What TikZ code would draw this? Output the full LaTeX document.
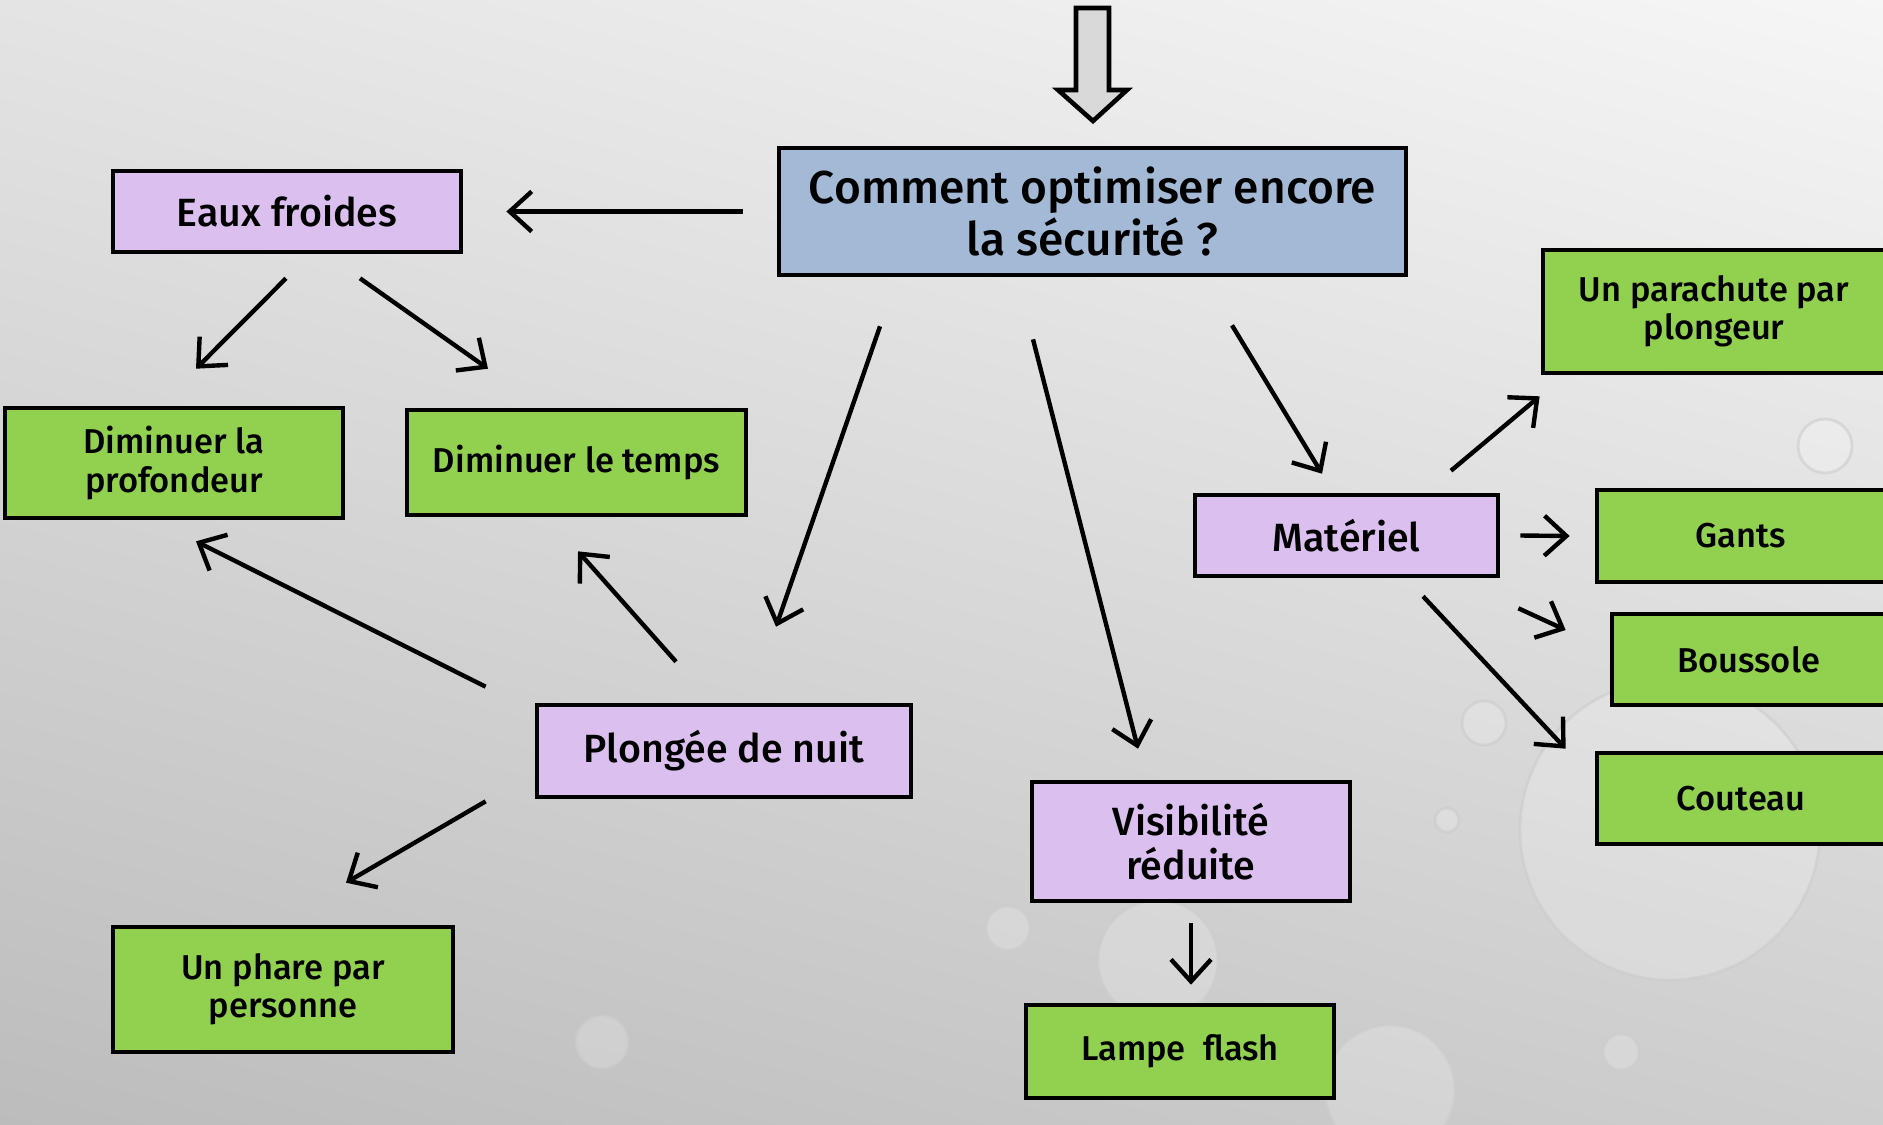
\documentclass[tikz,border=0pt]{standalone}
\usepackage{fontspec}
\setmainfont{Fira Sans}[UprightFont = * Medium]
\usetikzlibrary{arrows.meta,calc}
\definecolor{BleuTitre}{HTML}{A3B9D5}
\definecolor{Mauve}{HTML}{DBBFEE}
\definecolor{VertPomme}{HTML}{92D050}
\definecolor{GrisFleche}{HTML}{D9D9D9}
\definecolor{FondHaut}{HTML}{F8F8F8}
\definecolor{FondBas}{HTML}{BBBBBB}
\tikzset{
  titre/.style   = {draw, line width=1.3pt, fill=BleuTitre, align=center,
                    font=\fontsize{13.1}{14.8}\selectfont, inner sep=0pt},
  theme/.style   = {draw, line width=1.3pt, fill=Mauve, align=center,
                    font=\fontsize{11.2}{12.6}\selectfont, inner sep=0pt},
  solution/.style= {draw, line width=1.3pt, fill=VertPomme, align=center,
                    font=\fontsize{9.8}{10.9}\selectfont, inner sep=0pt},
  fleche/.style  = {-{Straight Barb[length=2.2mm,width=4mm]}, line width=1.25pt},
  goutte/.style  = {draw=white!60!gray, draw opacity=0.6, line width=0.8pt,
                    fill=white, fill opacity=0.2},
}

\begin{document}
\begin{tikzpicture}[x=0.01cm, y=-0.01cm]
  % fond
  \useasboundingbox (0,0) rectangle (1883,1124);
  \clip (0,0) rectangle (1883,1124);
  \shade[top color=FondHaut, bottom color=FondBas, shading angle=-15] (-200,-200) rectangle (2100,1300);
  % gouttes
  \draw[goutte] (1670,830) circle (150);
  \draw[goutte] (1158,960) circle (60);
  \draw[goutte] (1390,1090) circle (65);
  \draw[goutte] (1825,446) circle (27);
  \draw[goutte] (1484,723) circle (22);
  \draw[goutte] (1447,820) circle (12);
  \draw[goutte] (1008,928) circle (22);
  \draw[goutte] (602,1042) circle (26);
  \draw[goutte] (1621,1052) circle (18);
  % grosse fleche
  \draw[line width=1.3pt, fill=GrisFleche] (1076,8) -- (1109,8) -- (1109,90) -- (1127,90)
    -- (1093,121) -- (1058,90) -- (1076,90) -- cycle;

  \node[titre, minimum width=6.27cm, minimum height=1.27cm] (bleu) at (1092.5,211.5) {Comment optimiser encore\\la sécurité ?};
  \node[theme, minimum width=3.48cm, minimum height=0.81cm] (eaux) at (287,211.5) {Eaux froides};
  \node[solution, minimum width=3.38cm, minimum height=1.10cm] (prof) at (174,463) {Diminuer la\\profondeur};
  \node[solution, minimum width=3.39cm, minimum height=1.05cm] (temps) at (576.5,462.5) {Diminuer le temps};
  \node[theme, minimum width=3.74cm, minimum height=0.92cm] (nuit) at (724,751) {Plongée de nuit};
  \node[solution, minimum width=3.40cm, minimum height=1.25cm] (phare) at (283,989.5) {Un phare par\\personne};
  \node[theme, minimum width=3.18cm, minimum height=1.19cm] (visib) at (1191,841.5) {Visibilité\\réduite};
  \node[solution, minimum width=3.08cm, minimum height=0.93cm] (lampe) at (1180,1051.5) {Lampe\ \ flash};
  \node[theme, minimum width=3.03cm, minimum height=0.81cm] (mat) at (1346.5,535.5) {Matériel};
  \node[solution, minimum width=3.42cm, minimum height=1.23cm] (para) at (1714,311.5) {Un parachute par\\plongeur};
  \node[solution, minimum width=2.88cm, minimum height=0.92cm] (gants) at (1741,536) {Gants};
  \node[solution, minimum width=2.73cm, minimum height=0.91cm] (bous) at (1748.5,659.5) {Boussole};
  \node[solution, minimum width=2.88cm, minimum height=0.91cm] (cout) at (1741,798.5) {Couteau};

  \draw[fleche] ($(bleu.west)+(-34,0)$) -- ($(eaux.east)+(43,0)$);
  \draw[fleche] ($(eaux.south)+(-1,24)$) -- ($(prof.north)+(22,-37)$);
  \draw[fleche] ($(eaux.south)+(73,24)$) -- ($(temps.north)+(-88.5,-39)$);
  \draw[fleche] ($(bleu.south)+(-212.5,49)$) -- ($(nuit.north)+(52,-76)$);
  \draw[fleche] ($(bleu.south)+(-59.5,62)$) -- ($(visib.north)+(-53,-31)$);
  \draw[fleche] ($(bleu.south)+(139.5,48)$) -- ($(mat.north)+(-24.5,-19)$);
  \draw[fleche] ($(nuit.north west)+(-49,-16)$) -- ($(prof.south)+(22,21)$);
  \draw[fleche] ($(nuit.north)+(-48,-41)$) -- ($(temps.south)+(1.5,34)$);
  \draw[fleche] ($(nuit.south west)+(-49,2)$) -- ($(phare.north)+(63,-42)$);
  \draw[fleche] ($(mat.north)+(104.5,-22)$) -- ($(para.south west)+(-1,21)$);
  \draw[fleche] ($(mat.east)+(20,0)$) -- ($(gants.west)+(-25,0)$);
  \draw[fleche] ($(mat.south east)+(18,30)$) -- ($(bous.west)+(-44,-29.5)$);
  \draw[fleche] ($(mat.south)+(76.5,18)$) -- ($(cout.north west)+(-29,-2)$);
  \draw[fleche] ($(visib.south)+(0,20)$) -- ($(lampe.north)+(11,-18)$);
\end{tikzpicture}
\end{document}
